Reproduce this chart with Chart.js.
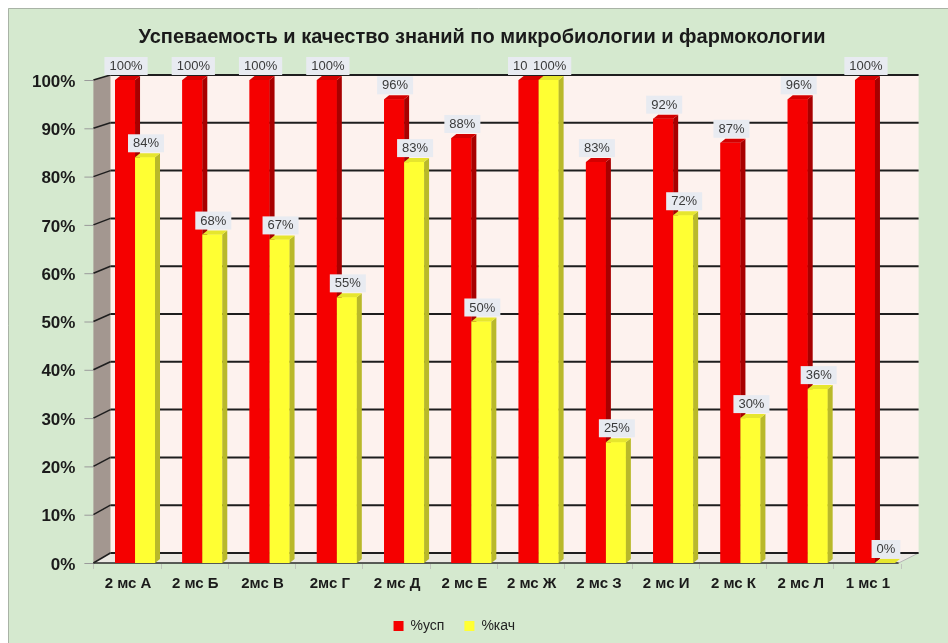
<!DOCTYPE html>
<html><head><meta charset="utf-8">
<script src="https://cdn.jsdelivr.net/npm/chart.js@4.4.1/dist/chart.umd.min.js"></script>
<style>html,body{margin:0;padding:0;background:#fff;overflow:hidden}</style>
</head><body>
<canvas id="c" width="948" height="643"></canvas>
<script>
const chartTitle = 'Успеваемость и качество знаний по микробиологии и фармокологии';
const categories = ['2 мс А','2 мс Б','2мс В','2мс Г','2 мс Д','2 мс Е','2 мс Ж','2 мс З','2 мс И','2 мс К','2 мс Л','1 мс 1'];
const seriesNames = ['%усп','%кач'];
const uspValues = [100,100,100,100,96,88,100,83,92,87,96,100];
const kachValues = [84,68,67,55,83,50,100,25,72,30,36,0];
const yTickValues = [0,10,20,30,40,50,60,70,80,90,100];

const FONT = "'Liberation Sans', Arial, sans-serif";
const faces = [
  {front:'#f50000', side:'#a80000', top:'#d40000'},
  {front:'#ffff33', side:'#b9b92a', top:'#e6e62e'}
];
const DX = 5, DY = 4;

const bgPlugin = {
  id:'bg',
  beforeDraw(chart){
    const ctx = chart.ctx;
    ctx.save();
    ctx.fillStyle = '#ffffff';
    ctx.fillRect(0,0,chart.width,chart.height);
    ctx.fillStyle = '#d5e9cf';
    ctx.fillRect(8,8,chart.width-8,chart.height-8);
    ctx.strokeStyle = '#a9b3a6';
    ctx.lineWidth = 1;
    ctx.beginPath();
    ctx.moveTo(8.5,chart.height);ctx.lineTo(8.5,8.5);ctx.lineTo(chart.width,8.5);
    ctx.stroke();
    // title
    ctx.fillStyle = '#1a1a1a';
    ctx.font = "bold 20px " + FONT;
    ctx.textAlign = 'center';
    ctx.textBaseline = 'middle';
    ctx.fillText(chartTitle, 482, 37);
    ctx.restore();
  }
};

function geom(chart){
  const {left,right} = chart.chartArea;
  const ys = chart.scales.y;
  return {
    fx0: left - 8, bx0: left + 9, bx1: right + 10, fx1: right - 10,
    front: v => ys.getPixelForValue(v),
    back: v => ys.getPixelForValue(v) - 10 + 0.05*v
  };
}

const wallPlugin = {
  id:'walls',
  beforeDatasetsDraw(chart){
    const ctx = chart.ctx;
    const g = geom(chart);
    ctx.save();
    // back wall
    ctx.fillStyle = '#fdf2ee';
    ctx.fillRect(g.bx0, g.back(100), g.bx1-g.bx0, g.back(0)-g.back(100));
    // floor
    ctx.fillStyle = '#ece9e3';
    ctx.beginPath();
    ctx.moveTo(g.fx0,g.front(0));ctx.lineTo(g.bx0,g.back(0));ctx.lineTo(g.bx1,g.back(0));ctx.lineTo(g.fx1,g.front(0));
    ctx.closePath();ctx.fill();
    ctx.strokeStyle = '#b5b5b5';ctx.lineWidth = 1;
    ctx.beginPath();ctx.moveTo(g.fx1,g.front(0));ctx.lineTo(g.bx1,g.back(0));ctx.stroke();
    // left wall
    ctx.fillStyle = '#a39790';
    ctx.beginPath();
    ctx.moveTo(g.fx0,g.front(100));ctx.lineTo(g.bx0,g.back(100));ctx.lineTo(g.bx0,g.back(0));ctx.lineTo(g.fx0,g.front(0));
    ctx.closePath();ctx.fill();
    // grid lines
    yTickValues.forEach(v=>{
      ctx.strokeStyle = '#1e1e1e';ctx.lineWidth = 2;
      ctx.beginPath();ctx.moveTo(g.bx0,g.back(v));ctx.lineTo(g.bx1,g.back(v));ctx.stroke();
      ctx.lineWidth = 1.5;
      ctx.beginPath();ctx.moveTo(g.fx0,g.front(v));ctx.lineTo(g.bx0,g.back(v));ctx.stroke();
      ctx.strokeStyle = '#9a9a9a';ctx.lineWidth = 1;
      ctx.beginPath();ctx.moveTo(g.fx0-9,g.front(v)+0.5);ctx.lineTo(g.fx0,g.front(v)+0.5);ctx.stroke();
    });
    // floor front edge
    ctx.strokeStyle = '#2a2a2a';ctx.lineWidth = 1.5;
    ctx.beginPath();ctx.moveTo(g.fx0,g.front(0));ctx.lineTo(g.fx1,g.front(0));ctx.stroke();
    // category ticks under floor
    const xs = chart.scales.x;
    ctx.strokeStyle = '#c0c4bc';ctx.lineWidth = 1;
    for(let i=0;i<=categories.length;i++){
      const x = Math.round(xs.getPixelForValue(i-0.5) - 8) + 0.5;
      ctx.beginPath();ctx.moveTo(x,g.front(0)+1);ctx.lineTo(x,g.front(0)+6);ctx.stroke();
    }
    ctx.restore();
  }
};

const barPlugin = {
  id:'bars3d',
  afterDatasetsDraw(chart){
    const ctx = chart.ctx;
    ctx.save();
    [0,1].forEach(di=>{
      const meta = chart.getDatasetMeta(di);
      const f = faces[di];
      meta.data.forEach(el=>{
        const x1 = el.x - el.width/2, x2 = el.x + el.width/2, yt = el.y, yb = el.base;
        if (yb - yt > 0.5){
          ctx.fillStyle = f.front;
          ctx.fillRect(x1,yt,x2-x1,yb-yt);
        }
        ctx.fillStyle = f.side;
        ctx.beginPath();ctx.moveTo(x2,yt);ctx.lineTo(x2+DX,yt-DY);ctx.lineTo(x2+DX,yb-DY);ctx.lineTo(x2,yb);ctx.closePath();ctx.fill();
        ctx.fillStyle = f.top;
        ctx.beginPath();ctx.moveTo(x1,yt);ctx.lineTo(x1+DX,yt-DY);ctx.lineTo(x2+DX,yt-DY);ctx.lineTo(x2,yt);ctx.closePath();ctx.fill();
      });
    });
    // data labels
    ctx.font = "13px " + FONT;
    ctx.textAlign = 'center';ctx.textBaseline = 'middle';
    [0,1].forEach(di=>{
      const meta = chart.getDatasetMeta(di);
      const vals = chart.data.datasets[di].data;
      meta.data.forEach((el,i)=>{
        const txt = vals[i] + '%';
        const w = ctx.measureText(txt).width + 10, h = 18;
        const cx = el.x + 1, bottom = el.y - 5;
        ctx.fillStyle = '#e8ebf1';
        ctx.fillRect(cx - w/2, bottom - h, w, h);
        ctx.fillStyle = '#3a3a3a';
        ctx.fillText(txt, cx, bottom - h/2 + 0.5);
      });
    });
    ctx.restore();
  }
};

new Chart(document.getElementById('c'), {
  type:'bar',
  data:{
    labels: categories,
    datasets:[
      {label: seriesNames[0], data: uspValues, backgroundColor: faces[0].front, borderWidth:0},
      {label: seriesNames[1], data: kachValues, backgroundColor: faces[1].front, borderWidth:0}
    ]
  },
  options:{
    responsive:false,
    devicePixelRatio:1,
    animation:false,
    layout:{padding:{left:0,right:39.4,top:80,bottom:0}},
    datasets:{bar:{categoryPercentage:0.594,barPercentage:1}},
    plugins:{
      title:{display:false},
      tooltip:{enabled:false},
      legend:{
        position:'bottom',
        labels:{font:{family:FONT,size:14},color:'#222',boxWidth:10,boxHeight:10,padding:20}
      }
    },
    scales:{
      x:{
        grid:{display:false,drawTicks:false},
        border:{display:false},
        ticks:{font:{family:FONT,size:15,weight:'bold'},color:'#1b1b1b',padding:12,labelOffset:-7,maxRotation:0,autoSkip:false},
        afterFit(s){ s.height = 36; }
      },
      y:{
        min:0,max:100,
        grid:{display:false,drawTicks:false},
        border:{display:false},
        ticks:{stepSize:10,font:{family:FONT,size:17,weight:'bold'},color:'#1b1b1b',padding:26,labelOffset:2,callback:v=>v+'%'},
        afterFit(s){ s.width = 101.4; }
      }
    }
  },
  plugins:[bgPlugin, wallPlugin, barPlugin]
});
</script>
</body></html>
